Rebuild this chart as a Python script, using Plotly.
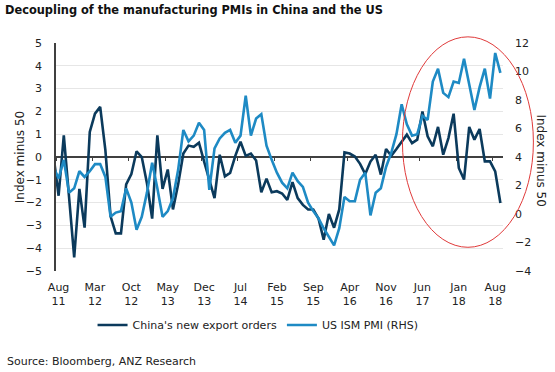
import pandas as pd
import plotly.graph_objects as go

# Monthly categories: Jul 2011 (clipped at the left edge) to Sep 2018
months = pd.period_range("2011-07", "2018-09", freq="M")

# China's new export orders PMI, index minus 50 (left axis)
china = [0.1,
         -1.7, 0.95, -1.6, -4.4, -1.4, -3.1, 1.1, 1.9, 2.2, 0.3,
         -2.6, -3.35, -3.35, -1.2, -0.75, 0.25, 0.0, -1.15, -2.7, 0.95,
         -1.4, -0.55, -2.3, -1.2, 0.15, 0.5, 0.45, 0.63, -0.2, -0.95,
         -1.8, 0.1, -0.85, -0.7, 0.05, 0.67, 0.05, 0.15, -0.15, -1.55,
         -0.95, -1.55, -1.5, -1.6, -1.88, -1.1, -1.8, -2.1, -2.3, -2.3,
         -2.7, -3.63, -2.5, -3.1, -2.3, 0.2, 0.15, 0.02, -0.3, -0.75,
         -0.2, 0.1, -0.77, 0.35, 0.05, 0.35, 0.69, 0.98, 0.61, 0.76,
         2.0, 0.91, 0.47, 1.32, 0.1, 0.83, 1.9, -0.48, -0.99, 1.32,
         0.76, 1.23, -0.19, -0.19, -0.63, -2.02]

# US ISM manufacturing PMI, index minus 50 (right axis)
us_ism = [3.3,
          2.5, 3.8, 1.5, 1.8, 3.0, 2.6, 3.0, 3.5, 3.5, 2.6,
          -0.2, 0.1, 0.2, 1.8, 0.8, -1.1, -0.2, 1.5, 3.6, 1.8,
          -0.2, 0.2, 1.1, 3.1, 5.9, 5.1, 5.5, 6.4, 5.9, 1.7,
          4.6, 5.3, 5.7, 5.9, 5.0, 5.5, 8.3, 5.5, 6.7, 7.0,
          4.8, 3.8, 2.9, 2.2, 1.8, 2.9, 2.3, 1.9, 0.8, 0.2,
          -0.3, -1.0, -1.6, -2.2, -1.0, 1.2, 0.9, 0.9, 2.4, 2.9,
          -0.1, 1.5, 1.8, 3.3, 4.3, 5.6, 7.7, 6.3, 5.5, 5.6,
          6.9, 6.6, 9.3, 10.2, 8.5, 8.2, 9.3, 9.2, 10.9, 9.1,
          7.3, 8.9, 10.2, 8.1, 11.3, 9.9]

tick_labels = ["Aug<br>11", "Mar<br>12", "Oct<br>12", "May<br>13", "Dec<br>13",
               "Jul<br>14", "Feb<br>15", "Sep<br>15", "Apr<br>16", "Nov<br>16",
               "Jun<br>17", "Jan<br>18", "Aug<br>18"]

# position of each month counted from Aug 2011
x = [(p.year - 2011) * 12 + p.month - 8 for p in months]
tick_vals = [7 * k for k in range(len(tick_labels))]
tick_bounds = [v - 0.5 for v in tick_vals]

DARK = "#0b3a5c"
LIGHT = "#1e8ac4"
AX = "#404040"
FONT = "DejaVu Sans"

fig = go.Figure()
fig.add_trace(go.Scatter(x=x, y=china, mode="lines", name="China's new export orders",
                         line=dict(color=DARK, width=2.6), yaxis="y"))
fig.add_trace(go.Scatter(x=x, y=us_ism, mode="lines", name="US ISM PMI (RHS)",
                         line=dict(color=LIGHT, width=2.6), yaxis="y2"))
# carrier for the tick-mark axis drawn on the zero line
fig.add_trace(go.Scatter(x=[None], y=[None], xaxis="x2", yaxis="y",
                         showlegend=False, hoverinfo="skip"))

fig.update_layout(
    width=555, height=372,
    margin=dict(l=56, r=52, t=43, b=101),
    paper_bgcolor="white", plot_bgcolor="white",
    font=dict(family=FONT, size=11, color="#222222"),
    title=dict(text="<b>Decoupling of the manufacturing PMIs in China and the US</b>",
               x=0.009, xanchor="left", y=0.972, yanchor="middle",
               xref="container", yref="container",
               font=dict(family=FONT, size=11.4, color="#111111")),
    xaxis=dict(range=[-0.5, 85.5], tickmode="array", tickvals=tick_vals,
               ticktext=tick_labels, ticks="", showgrid=False, zeroline=False,
               showline=False, ticklabelstandoff=8,
               tickfont=dict(size=11, color="#222222")),
    xaxis2=dict(range=[-0.5, 85.5], overlaying="x", anchor="free", position=0.5,
                side="bottom", tickmode="array", tickvals=tick_bounds,
                ticks="outside", ticklen=3, tickcolor=AX, tickwidth=1,
                showticklabels=False, showgrid=False, zeroline=False, showline=False),
    yaxis=dict(range=[-5, 5], dtick=1, showgrid=True, gridcolor="#e6e6e6", gridwidth=1,
               zeroline=True, zerolinecolor=AX, zerolinewidth=1.5,
               showline=True, linecolor=AX, linewidth=1.5, ticks="",
               ticklabelstandoff=10, tickfont=dict(size=11, color="#222222")),
    yaxis2=dict(range=[-4, 12], dtick=2, overlaying="y", side="right",
                showgrid=False, zeroline=False, showline=False, ticks="",
                ticklabelstandoff=11, tickfont=dict(size=11, color="#222222")),
    legend=dict(orientation="h", x=0.452, xanchor="center", y=-0.237, yanchor="middle",
                font=dict(size=11, color="#222222"), bgcolor="rgba(0,0,0,0)",
                itemwidth=30),
    showlegend=True,
)

fig.add_annotation(text="Index minus 50", xref="paper", yref="paper",
                   x=-0.080, y=0.5, textangle=-90, showarrow=False,
                   font=dict(size=12, color="#222222"), xanchor="center", yanchor="middle")
fig.add_annotation(text="Index minus 50", xref="paper", yref="paper",
                   x=1.084, y=0.487, textangle=90, showarrow=False,
                   font=dict(size=12, color="#222222"), xanchor="center", yanchor="middle")
fig.add_annotation(text="Source: Bloomberg, ANZ Research", xref="paper", yref="paper",
                   x=-0.114, y=-0.399, xanchor="left", yanchor="middle", showarrow=False,
                   font=dict(size=11, color="#222222"))

fig.add_shape(type="circle", xref="paper", yref="paper",
              x0=0.775, x1=1.068, y0=0.104, y1=1.027,
              line=dict(color="#e03a3a", width=1))

fig.write_html("out.html", config={"displayModeBar": False},
               post_script="document.body.style.margin='0';")
